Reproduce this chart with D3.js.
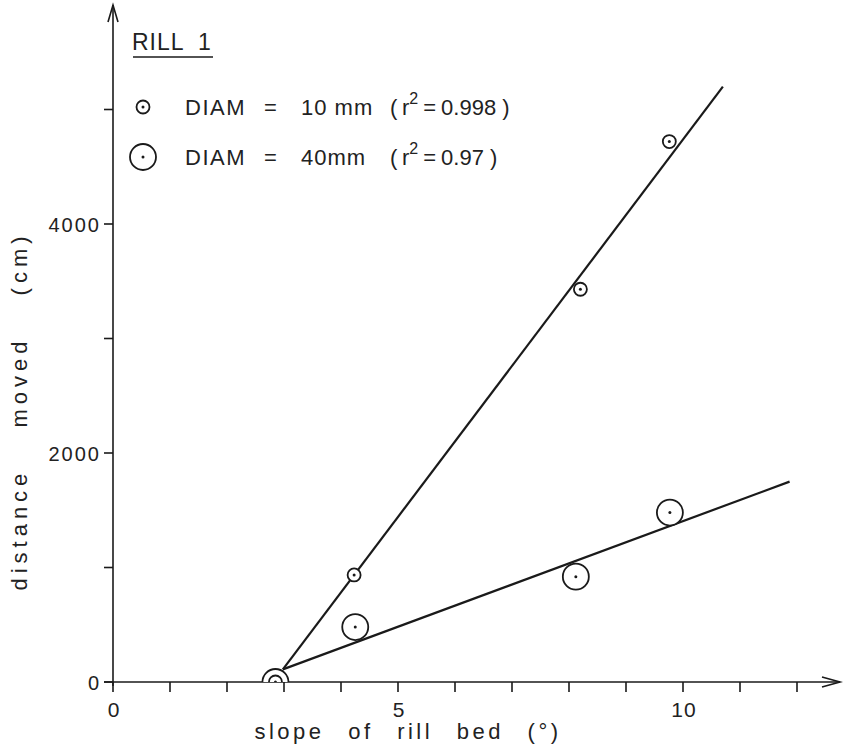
<!DOCTYPE html>
<html>
<head>
<meta charset="utf-8">
<script src="https://cdn.jsdelivr.net/npm/d3@7"></script>
<style>
  html, body { margin: 0; padding: 0; background: #fff; }
  svg text { font-family: "Liberation Sans", Arial, sans-serif; fill: #222; }
</style>
</head>
<body>
<svg id="chart" width="844" height="747"></svg>
<script>
// --- data --------------------------------------------------------------------
const X_TICKS = [0, 1, 2, 3, 4, 5, 6, 7, 8, 9, 10, 11, 12];
const X_LABELS = [0, 5, 10];
const Y_TICKS = [0, 1000, 2000, 3000, 4000, 5000];
const Y_LABELS = [0, 2000, 4000];

const D10_SLOPE = [2.85, 4.23, 8.2, 9.76];
const D10_DIST  = [0, 935, 3430, 4720];
const D40_SLOPE = [2.85, 4.25, 8.12, 9.77];
const D40_DIST  = [0, 480, 920, 1480];

// regression lines (start, end)
const FIT10_X = [2.98, 10.7];
const FIT10_Y = [110, 5200];
const FIT40_X = [2.98, 11.87];
const FIT40_Y = [110, 1750];

// legend rows
const LEGEND_R = [6.5, 13];
const LEGEND_SIZE = ["10 mm", "40mm"];
const LEGEND_R2 = ["0.998", "0.97"];

const INK = "#1a1a1a";

const svg = d3.select("#chart");
const x = d3.scaleLinear().domain([0, 10]).range([113, 683]);
const y = d3.scaleLinear().domain([0, 4000]).range([682, 224]);

// --- axes --------------------------------------------------------------------
const ax = svg.append("g").attr("stroke", INK).attr("stroke-width", 1.6).attr("fill", "none");

ax.append("line").attr("x1", x(0)).attr("x2", x(0)).attr("y1", y(0) + 4).attr("y2", 5);
ax.append("path").attr("d", `M${x(0) - 5},22 L${x(0)},5 L${x(0) + 5},22`);

ax.append("line").attr("x1", x(0) - 9).attr("x2", 840).attr("y1", y(0)).attr("y2", y(0));
ax.append("path").attr("d", `M822,${y(0) - 5} L840,${y(0)} L822,${y(0) + 5}`);

ax.selectAll("line.xt").data(X_TICKS).enter().append("line")
  .attr("class", "xt")
  .attr("x1", (d) => x(d)).attr("x2", (d) => x(d))
  .attr("y1", y(0)).attr("y2", y(0) + 10);

ax.selectAll("line.yt").data(Y_TICKS).enter().append("line")
  .attr("class", "yt")
  .attr("x1", x(0) - 9).attr("x2", x(0))
  .attr("y1", (d) => y(d)).attr("y2", (d) => y(d));

svg.selectAll("text.xl").data(X_LABELS).enter().append("text")
  .attr("class", "xl")
  .attr("x", (d) => x(d) + 1).attr("y", y(0) + 35)
  .attr("text-anchor", "middle")
  .attr("font-size", 21)
  .attr("letter-spacing", 1)
  .text((d) => d);

svg.selectAll("text.yl").data(Y_LABELS).enter().append("text")
  .attr("class", "yl")
  .attr("x", x(0) - 12).attr("y", (d) => y(d) + 8)
  .attr("text-anchor", "end")
  .attr("font-size", 20)
  .attr("letter-spacing", 2)
  .text((d) => d);

svg.append("text")
  .attr("x", 408).attr("y", 739)
  .attr("text-anchor", "middle")
  .attr("font-size", 22)
  .attr("letter-spacing", 3.5)
  .attr("word-spacing", 14)
  .text("slope of rill bed (°)");

svg.append("text")
  .attr("transform", "translate(27,411) rotate(-90)")
  .attr("text-anchor", "middle")
  .attr("font-size", 22)
  .attr("letter-spacing", 5)
  .attr("word-spacing", 30)
  .text("distance moved (cm)");

// --- fitted lines ------------------------------------------------------------
const line = d3.line().x((d) => x(d[0])).y((d) => y(d[1]));
[[FIT10_X, FIT10_Y], [FIT40_X, FIT40_Y]].forEach(([xs, ys]) => {
  svg.append("path")
    .attr("d", line(d3.zip(xs, ys)))
    .attr("fill", "none").attr("stroke", INK).attr("stroke-width", 2.2);
});

// --- points (clipped at the x axis, as in the original) ----------------------
svg.append("clipPath").attr("id", "above")
  .append("rect").attr("x", 0).attr("y", 0).attr("width", 844).attr("height", y(0));

const pts = svg.append("g").attr("clip-path", "url(#above)");
const series = [
  { xs: D40_SLOPE, ys: D40_DIST, r: 13 },
  { xs: D10_SLOPE, ys: D10_DIST, r: 6.5 },
];
series.forEach((s) => {
  const data = d3.zip(s.xs, s.ys);
  pts.selectAll(null).data(data).enter().append("circle")
    .attr("cx", (d) => x(d[0])).attr("cy", (d) => y(d[1]))
    .attr("r", s.r)
    .attr("fill", "#fff").attr("stroke", INK).attr("stroke-width", 1.8);
  pts.selectAll(null).data(data).enter().append("circle")
    .attr("cx", (d) => x(d[0])).attr("cy", (d) => y(d[1]))
    .attr("r", 1.5).attr("fill", INK);
});

// --- legend ------------------------------------------------------------------
const title = svg.append("text").attr("y", 50).attr("font-size", 23);
title.append("tspan").attr("x", 132).attr("letter-spacing", 1).text("RILL");
title.append("tspan").attr("x", 198).text("1");
svg.append("line")
  .attr("x1", 133).attr("x2", 213).attr("y1", 57).attr("y2", 57)
  .attr("stroke", INK).attr("stroke-width", 1.6);

const lg = svg.selectAll("g.lg").data(d3.range(LEGEND_R.length)).enter().append("g")
  .attr("class", "lg")
  .attr("transform", (i) => `translate(0,${107 + i * 50})`);
lg.append("circle").attr("cx", 143).attr("cy", 0).attr("r", (i) => LEGEND_R[i])
  .attr("fill", "#fff").attr("stroke", INK).attr("stroke-width", 1.8);
lg.append("circle").attr("cx", 143).attr("cy", 0).attr("r", 1.5).attr("fill", INK);
const lt = lg.append("text").attr("y", 8).attr("font-size", 22);
lt.append("tspan").attr("x", 185).attr("letter-spacing", 1.5).text("DIAM");
lt.append("tspan").attr("x", 264).text("=");
lt.append("tspan").attr("x", 301).attr("letter-spacing", 1).text((i) => LEGEND_SIZE[i]);
lt.append("tspan").attr("x", 390).text("(");
lt.append("tspan").attr("x", 402).text("r");
lt.append("tspan").attr("dy", -11).attr("font-size", 16).text("2");
lt.append("tspan").attr("dy", 11).attr("dx", 5).text("=");
lt.append("tspan").attr("dx", 5).text((i) => LEGEND_R2[i]);
lt.append("tspan").attr("dx", 6).text(")");
</script>
</body>
</html>
